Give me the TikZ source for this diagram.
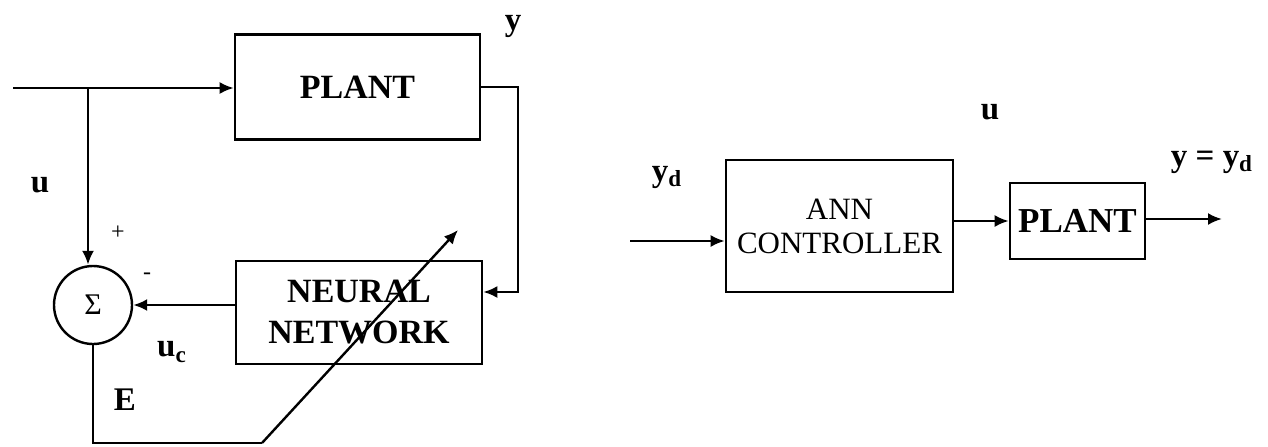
\documentclass[tikz,border=0pt]{standalone}
\usepackage{fontspec}
\setmainfont{Liberation Serif}
\usetikzlibrary{arrows.meta, positioning}

\begin{document}
\begin{tikzpicture}[
  x=0.5pt, y=-0.5pt,
  block/.style={draw, line width=1.3pt, inner sep=0pt, align=center, font=\bfseries\fontsize{17}{20.5}\selectfont},
  sumnode/.style={circle, draw, line width=1.2pt, minimum size=39pt, inner sep=0pt, font=\fontsize{15}{15}\selectfont},
  edge/.style={-{Latex[length=7pt, width=6pt]}, line width=1.2pt},
  wire/.style={line width=1.2pt},
  lbl/.style={font=\bfseries\fontsize{16.5}{16.5}\selectfont},
  sgn/.style={font=\fontsize{12}{12}\selectfont}
]
\useasboundingbox (0,0) rectangle (1268,446);

\node[block, minimum width=122.5pt, minimum height=52.5pt] (plant) at (357.5,87) {PLANT};
\node[block, minimum width=123pt, minimum height=51.5pt] (nn) at (359,312.5) {NEURAL\\NETWORK};
\node[sumnode] (sum) at (93,305) {Σ};

\coordinate (in) at (13,88);
\coordinate (br) at (88,88);
\coordinate (fb) at (518,292);
\coordinate (ec) at (262,443);
\coordinate (tip) at (458,230);

\draw[edge] (in) -- (in -| plant.west);
\draw[edge] (br) -- (br |- sum.north);
\draw[edge] (plant.east) -| (fb) -- (fb -| nn.east);
\draw[edge] (nn.west |- sum.east) -- (sum.east);
\draw[wire] (sum.south) -- (sum.south |- ec) -- (ec);
\draw[edge] (ec) -- (tip);

\node[lbl] (ylab) at (513,26) {y};
\node[lbl] (ulab) at (40,185) {u};
\node[sgn] (plus) at (118,233) {+};
\node[sgn] (minus) at (147,276) {-};
\node[lbl] (uclab) at (172,352) {u\textsubscript{c}};
\node[lbl] (elab) at (125,400) {E};

\node[block, minimum width=113.5pt, minimum height=66pt, font=\fontsize{15.5}{17}\selectfont] (ann) at (839.5,226) {ANN\\CONTROLLER};
\node[block, minimum width=67.5pt, minimum height=38pt, font=\bfseries\fontsize{17.5}{17.5}\selectfont] (plant2) at (1077.5,221) {PLANT};

\coordinate (yin) at (630,241);
\coordinate (yout) at (1222,219);

\draw[edge] (yin) -- (yin -| ann.west);
\draw[edge] (ann.east |- plant2.west) -- (plant2.west);
\draw[edge] (plant2.east |- yout) -- (yout);

\node[lbl] (ydlab) at (667,177) {y\textsubscript{d}};
\node[lbl] (u2lab) at (990,112) {u};
\node[lbl] (yeqlab) at (1212,162) {y = y\textsubscript{d}};
\end{tikzpicture}
\end{document}
